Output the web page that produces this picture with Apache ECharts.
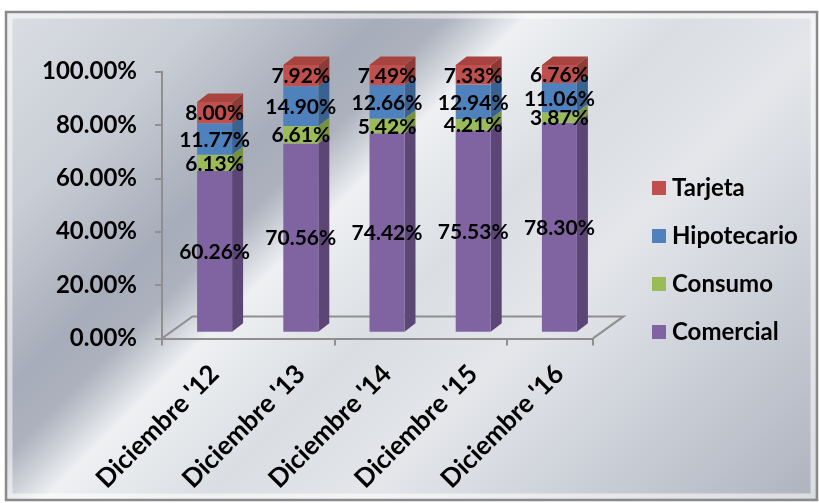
<!DOCTYPE html>
<html><head><meta charset="utf-8">
<script src="https://cdn.jsdelivr.net/npm/echarts@6/dist/echarts.min.js"></script>
<style>html,body{margin:0;padding:0;background:#fff}#c{width:819px;height:503px}</style>
</head><body><div id="c"></div>
<script>
const categories = ["Diciembre '12", "Diciembre '13", "Diciembre '14", "Diciembre '15", "Diciembre '16"];
const comercial   = [60.26, 70.56, 74.42, 75.53, 78.30];
const consumo     = [6.13, 6.61, 5.42, 4.21, 3.87];
const hipotecario = [11.77, 14.90, 12.66, 12.94, 11.06];
const tarjeta     = [8.00, 7.92, 7.49, 7.33, 6.76];
const yTicks = [0, 20, 40, 60, 80, 100];
const legendOrder = ['Tarjeta', 'Hipotecario', 'Consumo', 'Comercial'];

const FONT = 'Lato, "Open Sans", sans-serif';
const stackDefs = [
  {name: 'Comercial',   values: comercial,   front: '#8064A2', side: '#5B4676', top: '#6E5690'},
  {name: 'Consumo',     values: consumo,     front: '#9BBB59', side: '#77913F', top: '#88A64B'},
  {name: 'Hipotecario', values: hipotecario, front: '#4F81BD', side: '#3A6290', top: '#4570A6'},
  {name: 'Tarjeta',     values: tarjeta,     front: '#C0504D', side: '#8E3B38', top: '#A8433F'}
];

const BW = 35, DDX = 11, DDY = -8.5;
function makeRender(def) {
  return function (params, api) {
    const i = api.value(0), base = api.value(1), v = api.value(2), isTop = api.value(3);
    const p0 = api.coord([i, base]);
    const p1 = api.coord([i, base + v]);
    const xl = p0[0] - BW / 2, xr = xl + BW;
    const yb = p0[1], yt = p1[1];
    const children = [
      {type: 'polygon', shape: {points: [[xr, yb], [xr + DDX, yb + DDY], [xr + DDX, yt + DDY], [xr, yt]]},
       style: {fill: def.side}},
      {type: 'rect', shape: {x: xl, y: yt, width: BW, height: yb - yt}, style: {fill: def.front}}
    ];
    if (isTop) {
      children.push({type: 'polygon', shape: {points: [[xl, yt], [xl + DDX, yt + DDY], [xr + DDX, yt + DDY], [xr, yt]]},
        style: {fill: def.top}});
    }
    children.push({type: 'text', z2: 100,
      style: {text: v.toFixed(2) + '%', x: (xl + xr) / 2, y: (yt + yb) / 2 + 1,
        align: 'center', verticalAlign: 'middle', textAlign: 'center', textVerticalAlign: 'middle',
        fontSize: 21, fontWeight: 'bold', fontFamily: FONT, fill: '#000'}});
    return {type: 'group', children};
  };
}

const cum = categories.map(() => 0);
const barSeries = stackDefs.map((def, k) => {
  const data = categories.map((c, i) => {
    const item = [i, cum[i], def.values[i], k === stackDefs.length - 1 ? 1 : 0];
    cum[i] += def.values[i];
    return item;
  });
  return {
    type: 'custom', name: def.name, xAxisIndex: 1, yAxisIndex: 1,
    itemStyle: {color: def.front},
    renderItem: makeRender(def), data: data,
    encode: {x: 0, y: [1, 2]}, clip: false
  };
});

const floorSeries = {
  type: 'custom', name: 'floor', xAxisIndex: 0, yAxisIndex: 0, silent: true,
  data: [[0, 0]], clip: false,
  renderItem: function (params, api) {
    const a = api.coord([0, 0]);
    const b = api.coord([categories.length - 1, 0]);
    const w = api.size([1, 0])[0];
    const L = a[0] - w / 2, R = b[0] + w / 2, Y = a[1];
    const dx = 30.5, dy = -22;
    return {type: 'polyline', shape: {points: [[L, Y], [L + dx, Y + dy], [R + dx, Y + dy], [R, Y]]},
      style: {stroke: '#8f8f8f', lineWidth: 2, fill: null}};
  }
};

const bg = new echarts.graphic.LinearGradient(0, 0, 800, 800, [
  {offset: 0, color: '#dcdfe5'},
  {offset: 0.14, color: '#c9cdd5'},
  {offset: 0.25, color: '#a6acb9'},
  {offset: 0.29, color: '#adb2be'},
  {offset: 0.34, color: '#eef0f2'},
  {offset: 0.44, color: '#dadde2'},
  {offset: 0.54, color: '#e4e6ea'},
  {offset: 0.66, color: '#ccd0d8'},
  {offset: 0.82, color: '#aeb3bf'},
  {offset: 1, color: '#a4a9b6'}
], true);

const chart = echarts.init(document.getElementById('c'), null, {renderer: 'canvas'});
chart.setOption({
  backgroundColor: '#ffffff',
  animation: false,
  graphic: [
    {type: 'rect', z: -10, shape: {x: 6, y: 12, width: 811, height: 488},
     style: {fill: bg, stroke: '#8a8a8a', lineWidth: 2.5}},
    {type: 'rect', z: -9, shape: {x: 10, y: 16, width: 803, height: 480},
     style: {fill: null, stroke: 'rgba(255,255,255,0.55)', lineWidth: 5}}
  ],
  legend: {
    orient: 'vertical', left: 647, top: 169, itemWidth: 14, itemHeight: 14, itemGap: 20,
    icon: 'rect', data: legendOrder,
    textStyle: {fontSize: 24, fontWeight: 'bold', fontFamily: FONT, color: '#000', lineHeight: 28, padding: [0, 0, 0, 1]}
  },
  grid: [
    {left: 162, right: 226, top: 71.7, bottom: 164.6, outerBoundsMode: 'none', containLabel: false},
    {left: 171.5, right: 216.5, top: 65, bottom: 171.3, outerBoundsMode: 'none', containLabel: false}
  ],
  xAxis: [
    {type: 'category', gridIndex: 0, data: categories,
     axisLine: {show: true, lineStyle: {color: '#8f8f8f', width: 2}},
     axisTick: {show: true, length: 7, lineStyle: {color: '#8f8f8f', width: 2}},
     axisLabel: {show: false}, splitLine: {show: false}},
    {type: 'category', gridIndex: 1, data: categories,
     axisLine: {show: false}, axisTick: {show: false}, splitLine: {show: false},
     axisLabel: {show: true, interval: 0, rotate: 45, margin: 38,
       fontSize: 26, fontWeight: 'bold', fontFamily: FONT, color: '#000'}}
  ],
  yAxis: [
    {type: 'value', gridIndex: 0, min: yTicks[0], max: yTicks[yTicks.length - 1], interval: 20,
     axisLine: {show: true, lineStyle: {color: '#8f8f8f', width: 2}},
     axisTick: {show: true, length: 7, lineStyle: {color: '#8f8f8f', width: 2}},
     splitLine: {show: false},
     axisLabel: {margin: 25, fontSize: 24, fontWeight: 'bold', fontFamily: FONT, color: '#000',
       formatter: v => v.toFixed(2) + '%'}},
    {type: 'value', gridIndex: 1, min: 0, max: 100, show: false, splitLine: {show: false}}
  ],
  series: [floorSeries].concat(barSeries)
});
</script>
</body></html>
